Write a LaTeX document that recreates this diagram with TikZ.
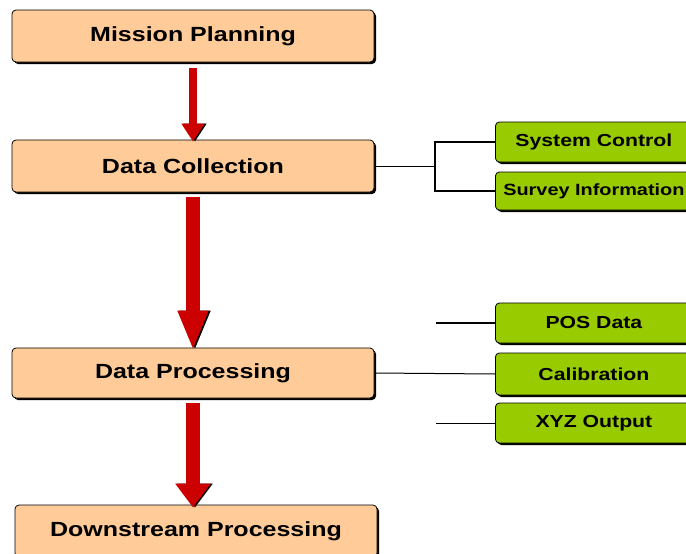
\documentclass[tikz,border=0pt]{standalone}
\usepackage{fontspec}
\newfontfamily\boxfont{Liberation Sans}[FakeStretch=1.22]
\usetikzlibrary{arrows.meta,shadows}
\definecolor{peach}{HTML}{FFCC99}
\definecolor{leaf}{HTML}{99CC00}
\definecolor{flowred}{HTML}{CC0000}

\begin{document}
\begin{tikzpicture}[x=1pt,y=-1pt,
  stage/.style={draw=black, fill=peach, rounded corners=4pt, line width=0.8pt,
    minimum width=362pt, minimum height=52pt, inner sep=0pt,
    font=\boxfont\bfseries\fontsize{20.5}{24}\selectfont,
    drop shadow={shadow xshift=2pt, shadow yshift=-2pt, opacity=1, fill=black}},
  task/.style={draw=black, fill=leaf, rounded corners=4pt, line width=0.8pt,
    minimum width=197pt, minimum height=40pt, inner sep=0pt,
    font=\boxfont\bfseries\fontsize{17.4}{20}\selectfont,
    drop shadow={shadow xshift=2pt, shadow yshift=-2pt, opacity=1, fill=black}},
  flow/.style={draw=flowred, shorten <=5pt,
    preaction={draw=black, transform canvas={xshift=2pt}}}
]

\useasboundingbox (0,0) rectangle (686,554);

% main stages
\node[stage] (mission) at (193,36) {Mission Planning};
\node[stage] (collect) at (193,166) {Data Collection};
\node[stage, minimum height=50pt] (process) at (193,373) {Data Processing};
\node[stage] (downstream) at (196,531) {Downstream Processing};

% side tasks
\node[task, anchor=west] (control) at (495,142) {System Control};
\node[task, anchor=west, minimum height=38pt,
  font=\boxfont\bfseries\fontsize{16.3}{19}\selectfont] (survey) at (495,191) {Survey Information};
\node[task, anchor=west] (pos) at (495,323) {POS Data};
\node[task, anchor=west, minimum height=42pt] (calib) at (495,374) {Calibration};
\node[task, anchor=west] (xyz) at (495,423) {XYZ Output};

\coordinate (split) at (435,166);
\coordinate (posend) at (436,323);
\coordinate (xyzend) at (436,423);

% red flow arrows
\draw[flow, line width=8pt, shorten <=6pt, -{Triangle[length=18pt,width=22pt]}]
  (mission.south) to ([yshift=-2pt]collect.north);
\draw[flow, line width=14pt, -{Triangle[length=40pt,width=28pt]}]
  (collect.south) to ([yshift=-3pt]process.north);
\draw[flow, line width=14pt, -{Triangle[length=24pt,width=34pt]}]
  (process.south) to ([yshift=-3pt]process.south |- downstream.north);

% connectors
\draw[line width=1pt] (collect.east) to (split);
\draw[line width=1.8pt] (control.west) -| (split) |- (survey.west);
\draw[line width=2pt] (posend) to (pos.west);
\draw[line width=1pt] (process.east) to (calib.west);
\draw[line width=1pt] (xyzend) to (xyz.west);

\end{tikzpicture}
\end{document}
